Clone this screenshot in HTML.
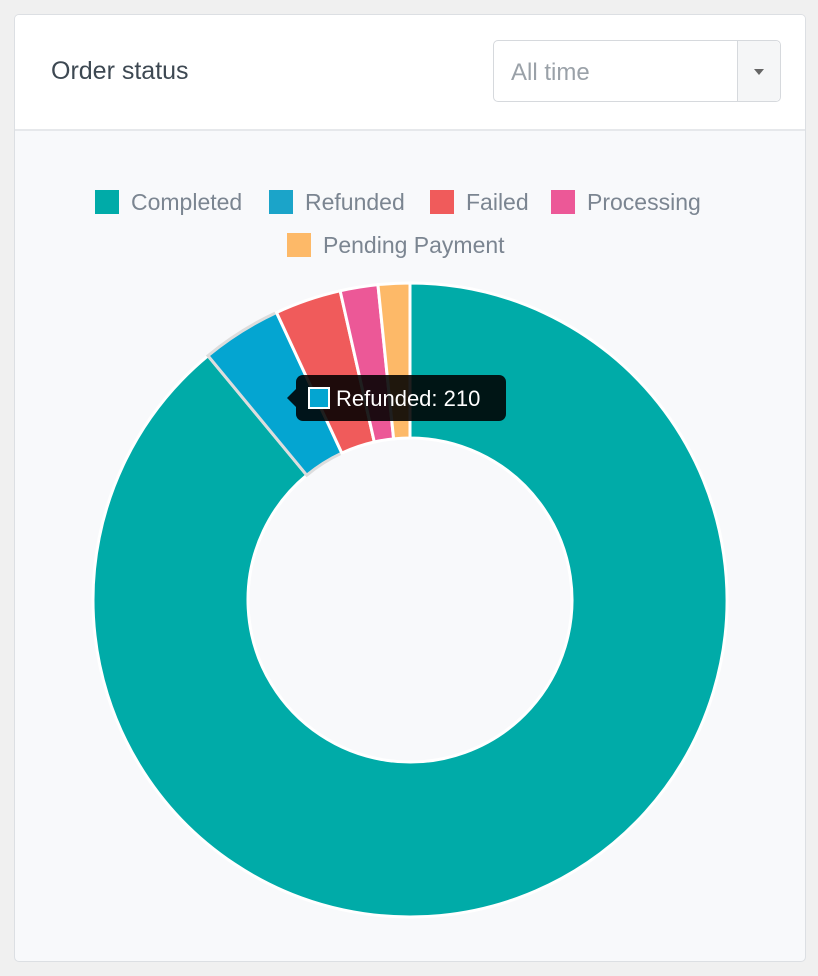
<!DOCTYPE html>
<html><head><meta charset="utf-8"><style>
body{margin:0;width:818px;height:976px;background:#f0f0f0;font-family:"Liberation Sans",sans-serif;position:relative;overflow:hidden}
.card{position:absolute;left:14px;top:14px;width:790px;height:946px;background:#f8f9fb;border:1px solid #dcdfe3;border-radius:5px;overflow:hidden}
.hdr{position:absolute;left:0;top:0;width:790px;height:114px;background:#fff;border-bottom:2px solid #e6e8eb}
.title{position:absolute;left:36px;top:42px;font-size:25px;color:#3d4852}
.sel{position:absolute;left:478px;top:25px;width:286px;height:60px;border:1px solid #d6d9dd;border-radius:5px;background:#fff}
.sel span{position:absolute;left:17px;top:18px;font-size:24px;color:#9aa1a8}
.sel .btn{position:absolute;right:0;top:0;width:42px;height:60px;border-left:1px solid #d6d9dd;background:#f5f6f7;border-radius:0 5px 5px 0}
.sel .btn:after{content:"";position:absolute;left:16px;top:28px;border:5px solid transparent;border-top:6px solid #666}
.leg{position:absolute;font-size:23px;color:#7b8591;white-space:nowrap}
.sw{display:inline-block;width:24px;height:24px;vertical-align:-4px;margin-right:12px}
</style></head><body>
<div class="card">
<div class="hdr">
<div class="title">Order status</div>
<div class="sel"><span>All time</span><div class="btn"></div></div>
</div>
</div>
<div class="leg" style="left:95px;top:189px"><span class="sw" style="background:#00aba8"></span>Completed</div>
<div class="leg" style="left:269px;top:189px"><span class="sw" style="background:#1ba4c9"></span>Refunded</div>
<div class="leg" style="left:430px;top:189px"><span class="sw" style="background:#f05b5b"></span>Failed</div>
<div class="leg" style="left:551px;top:189px"><span class="sw" style="background:#ec5897"></span>Processing</div>
<div class="leg" style="left:287px;top:232px"><span class="sw" style="background:#fdb968"></span>Pending Payment</div>
<svg id="chart" width="818" height="976" style="position:absolute;left:0;top:0"></svg>
<script>
const categories=["Completed","Refunded","Failed","Processing","Pending Payment"];
const values=[4580,210,174,99,83];
const colors=["#00aba8","#04a5d1","#f05b5b","#ec5897","#fdb968"];
const svg=document.getElementById('chart');
const cx=410,cy=600,R=317,r=162;
const total=values.reduce((a,b)=>a+b,0);
function pt(a,rad){return [cx+rad*Math.sin(a),cy-rad*Math.cos(a)];}
let a0=0;
values.forEach((v,i)=>{
 const a1=a0+v/total*2*Math.PI;
 const p1=pt(a0,R),p2=pt(a1,R),p3=pt(a1,r),p4=pt(a0,r);
 const lg=(a1-a0)>Math.PI?1:0;
 const p=document.createElementNS('http://www.w3.org/2000/svg','path');
 p.setAttribute('d',`M${p1}A${R},${R} 0 ${lg} 1 ${p2}L${p3}A${r},${r} 0 ${lg} 0 ${p4}Z`);
 p.setAttribute('fill',colors[i]);
 p.setAttribute('stroke',i==1?'#dddddd':'#ffffff');
 p.setAttribute('stroke-width','3');
 
 
 svg.appendChild(p);
 a0=a1;
});
</script>
<div style="position:absolute;left:296px;top:375px;width:210px;height:46px;background:rgba(0,0,0,0.88);border-radius:7px;color:#fff;font-size:22px">
<div style="position:absolute;left:-9px;top:14px;border:9px solid transparent;border-right-color:rgba(0,0,0,0.88);border-left:0"></div>
<span style="position:absolute;left:12px;top:12px;width:18px;height:18px;background:#04a5d1;border:2px solid #fff"></span>
<span style="position:absolute;left:40px;top:11px">Refunded: 210</span></div>
</body></html>
